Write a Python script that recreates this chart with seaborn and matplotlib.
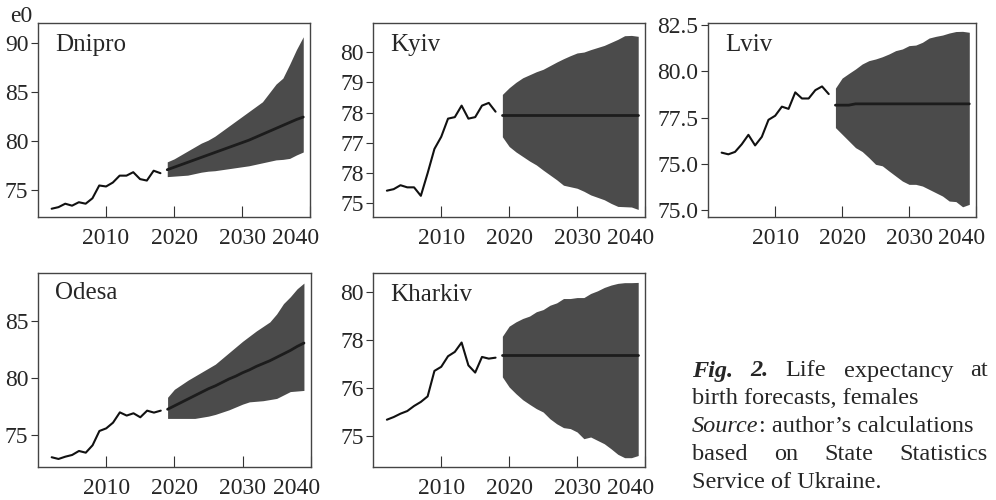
import numpy as np
import pandas as pd
import seaborn as sns
import matplotlib.pyplot as plt
from matplotlib.transforms import ScaledTranslation

### Life expectancy at birth forecasts, females (5 regions)

hist_years = list(range(2002, 2019))
fc_years = list(range(2019, 2040))

dnipro_hist = [73.14, 73.3, 73.65, 73.45, 73.8, 73.65, 74.2, 75.5, 75.4, 75.8, 76.5, 76.5, 76.85, 76.15, 76.0, 77.0, 76.75]
dnipro_med = [77.1, 77.35, 77.6, 77.85, 78.1, 78.35, 78.6, 78.85, 79.1, 79.35, 79.6, 79.85, 80.1, 80.4, 80.7, 81.0, 81.3, 81.6, 81.9, 82.2, 82.45]
dnipro_hi = [77.9, 78.2, 78.6, 79.0, 79.4, 79.8, 80.1, 80.5, 81.0, 81.5, 82.0, 82.5, 83.0, 83.5, 84.0, 84.9, 85.8, 86.4, 87.8, 89.3, 90.6]
dnipro_lo = [76.4, 76.45, 76.5, 76.55, 76.7, 76.85, 76.95, 77.0, 77.1, 77.2, 77.3, 77.4, 77.5, 77.65, 77.8, 77.95, 78.1, 78.15, 78.25, 78.6, 78.9]

kyiv_hist = [75.42, 75.47, 75.6, 75.53, 75.53, 75.25, 76.0, 76.8, 77.2, 77.8, 77.85, 78.23, 77.8, 77.85, 78.23, 78.32, 78.03]
kyiv_med = [77.92, 77.92, 77.92, 77.92, 77.92, 77.92, 77.92, 77.92, 77.92, 77.92, 77.92, 77.92, 77.92, 77.92, 77.92, 77.92, 77.92, 77.92, 77.92, 77.92, 77.92]
kyiv_hi = [78.6, 78.82, 79.0, 79.15, 79.25, 79.35, 79.43, 79.55, 79.67, 79.78, 79.88, 79.97, 80.0, 80.08, 80.15, 80.22, 80.32, 80.42, 80.54, 80.55, 80.52]
kyiv_lo = [77.2, 76.88, 76.7, 76.55, 76.4, 76.27, 76.1, 75.94, 75.78, 75.6, 75.55, 75.5, 75.4, 75.28, 75.2, 75.12, 75.0, 74.9, 74.89, 74.88, 74.8]

lviv_hist = [75.61, 75.52, 75.65, 76.06, 76.57, 76.0, 76.46, 77.38, 77.6, 78.09, 77.97, 78.86, 78.53, 78.53, 78.98, 79.18, 78.77]
lviv_med = [78.17, 78.17, 78.17, 78.24, 78.24, 78.24, 78.24, 78.24, 78.24, 78.24, 78.24, 78.24, 78.24, 78.24, 78.24, 78.24, 78.24, 78.24, 78.24, 78.24, 78.24]
lviv_hi = [79.09, 79.63, 79.88, 80.12, 80.39, 80.57, 80.66, 80.78, 80.93, 81.11, 81.2, 81.38, 81.41, 81.56, 81.79, 81.88, 81.95, 82.06, 82.14, 82.15, 82.1]
lviv_lo = [76.96, 76.6, 76.24, 75.88, 75.67, 75.34, 74.98, 74.9, 74.62, 74.35, 74.08, 73.9, 73.9, 73.81, 73.63, 73.45, 73.27, 73.0, 72.97, 72.69, 72.82]

odesa_hist = [73.05, 72.9, 73.1, 73.25, 73.6, 73.45, 74.1, 75.35, 75.58, 76.08, 76.98, 76.7, 76.9, 76.55, 77.13, 76.96, 77.13]
odesa_med = [77.25, 77.55, 77.85, 78.15, 78.45, 78.75, 79.05, 79.3, 79.6, 79.9, 80.15, 80.45, 80.7, 81.0, 81.25, 81.5, 81.8, 82.1, 82.4, 82.75, 83.05]
odesa_hi = [78.3, 79.0, 79.4, 79.8, 80.15, 80.5, 80.85, 81.2, 81.7, 82.2, 82.7, 83.2, 83.65, 84.1, 84.5, 84.9, 85.6, 86.5, 87.1, 87.8, 88.3]
odesa_lo = [76.45, 76.45, 76.45, 76.45, 76.45, 76.55, 76.65, 76.8, 77.0, 77.2, 77.45, 77.7, 77.9, 77.95, 78.0, 78.1, 78.2, 78.5, 78.8, 78.85, 78.9]

kharkiv_hist = [74.68, 74.79, 74.93, 75.04, 75.25, 75.42, 75.65, 76.71, 76.88, 77.32, 77.5, 77.89, 76.94, 76.64, 77.29, 77.22, 77.26]
kharkiv_med = [77.39, 77.39, 77.39, 77.39, 77.39, 77.39, 77.39, 77.39, 77.39, 77.39, 77.39, 77.39, 77.39, 77.39, 77.39, 77.39, 77.39, 77.39, 77.39, 77.39, 77.39]
kharkiv_hi = [78.15, 78.57, 78.75, 78.89, 78.99, 79.17, 79.26, 79.44, 79.54, 79.72, 79.72, 79.76, 79.76, 79.93, 80.04, 80.18, 80.28, 80.35, 80.38, 80.38, 80.39]
kharkiv_lo = [76.46, 76.04, 75.76, 75.51, 75.32, 75.14, 75.0, 74.72, 74.51, 74.35, 74.31, 74.17, 73.89, 73.96, 73.82, 73.68, 73.47, 73.24, 73.1, 73.1, 73.19]

# tick positions / labels as printed on the original figure
dnipro_yticks = [75, 80, 85, 90]
dnipro_ylabels = ['75', '80', '85', '90']
kyiv_yticks = [75, 76, 77, 78, 79, 80]
kyiv_ylabels = ['75', '78', '77', '78', '79', '80']
lviv_yticks = [72.5, 75, 77.5, 80, 82.5]
lviv_ylabels = ['75.0', '75.0', '77.5', '80.0', '82.5']
odesa_yticks = [75, 80, 85]
odesa_ylabels = ['75', '80', '85']
kharkiv_yticks = [74, 76, 78, 80]
kharkiv_ylabels = ['75', '76', '78', '80']
xticks = [2010, 2020, 2030, 2040]


sns.set_style('ticks')
plt.rcParams['font.family'] = ['Liberation Serif', 'DejaVu Serif']

fig = plt.figure(figsize=(9.96, 5), dpi=100)

panels = [
    ('Dnipro', dnipro_hist, dnipro_med, dnipro_hi, dnipro_lo, dnipro_yticks, dnipro_ylabels, (72.3, 92.0), [0.0382, 0.566, 0.2731, 0.388], 0.887),
    ('Kyiv', kyiv_hist, kyiv_med, kyiv_hi, kyiv_lo, kyiv_yticks, kyiv_ylabels, (74.55, 80.96), [0.3748, 0.566, 0.2728, 0.388], 0.887),
    ('Lviv', lviv_hist, lviv_med, lviv_hi, lviv_lo, lviv_yticks, lviv_ylabels, (72.14, 82.6), [0.7111, 0.566, 0.2688, 0.388], 0.887),
    ('Odesa', odesa_hist, odesa_med, odesa_hi, odesa_lo, odesa_yticks, odesa_ylabels, (72.17, 89.2), [0.0382, 0.0654, 0.2738, 0.389], 0.894),
    ('Kharkiv', kharkiv_hist, kharkiv_med, kharkiv_hi, kharkiv_lo, kharkiv_yticks, kharkiv_ylabels, (72.7, 80.79), [0.3748, 0.0654, 0.2728, 0.389], 0.887),
]

for name, hist, med, hi, lo, yt, yl, ylim, pos, ty in panels:
    ax = fig.add_axes(pos)
    df_h = pd.DataFrame({'year': hist_years, 'e0': hist})
    df_f = pd.DataFrame({'year': fc_years, 'e0': med, 'hi': hi, 'lo': lo})
    ax.fill_between(df_f['year'], df_f['lo'], df_f['hi'], color='#4b4b4b', lw=0)
    sns.lineplot(data=df_f, x='year', y='e0', ax=ax, color='#1c1c1c', lw=2)
    sns.lineplot(data=df_h, x='year', y='e0', ax=ax, color='#111111', lw=1.5)
    ax.set_xlim(2000, 2040)
    ax.set_ylim(ylim)
    ax.set_xticks(xticks)
    ax.set_yticks(yt)
    ax.set_yticklabels(yl)
    ax.set_xlabel('')
    ax.set_ylabel('')
    ax.tick_params(axis='x', direction='in', length=8, pad=8, labelsize=17, color='#333333')
    ax.tick_params(axis='y', direction='out', length=5, pad=2, labelsize=17, color='#333333')
    # the 2040 label sits a bit inside the right spine in the original
    lab = ax.xaxis.get_major_ticks()[-1].label1
    lab.set_transform(lab.get_transform() + ScaledTranslation(-0.14, 0, fig.dpi_scale_trans))
    for s in ax.spines.values():
        s.set_visible(True)
        s.set_color('#444444')
        s.set_linewidth(1.0)
    ax.text(0.062, ty, name, transform=ax.transAxes, fontsize=18, va='center', ha='left')

fig.text(21 / 996, 1 - 16 / 500, 'e0', fontsize=17, ha='center', va='center')

# caption, justified by hand between x=692 and x=988 px
cap = 17.5
left, right = 692, 988
renderer = fig.canvas.get_renderer()
R = {}
I = {'fontstyle': 'italic'}
BI = {'fontstyle': 'italic', 'fontweight': 'bold'}

caption = [
    (371, [[('Fig.', BI)], [('2.', BI)], [('Life', R)], [('expectancy', R)], [('at', R)]], True),
    (398, [[('birth forecasts, females', R)]], False),
    (426, [[('Source', I), (': author\u2019s calculations', R)]], False),
    (454, [[('based', R)], [('on', R)], [('State', R)], [('Statistics', R)]], True),
    (482, [[('Service of Ukraine.', R)]], False),
]

for y, words, justify in caption:
    texts = []
    widths = []
    for word in words:
        runs = []
        w = 0
        for s, st in word:
            t = fig.text(0, 1 - y / 500, s, fontsize=cap, va='center', **st)
            w += t.get_window_extent(renderer).width
            runs.append(t)
        texts.append(runs)
        widths.append(w)
    gap = (right - left - sum(widths)) / (len(words) - 1) if justify and len(words) > 1 else 0
    x = left
    for runs, w in zip(texts, widths):
        for t in runs:
            t.set_x(x / 996)
            x += t.get_window_extent(renderer).width
        x += gap

plt.savefig('out.png', dpi=100)
